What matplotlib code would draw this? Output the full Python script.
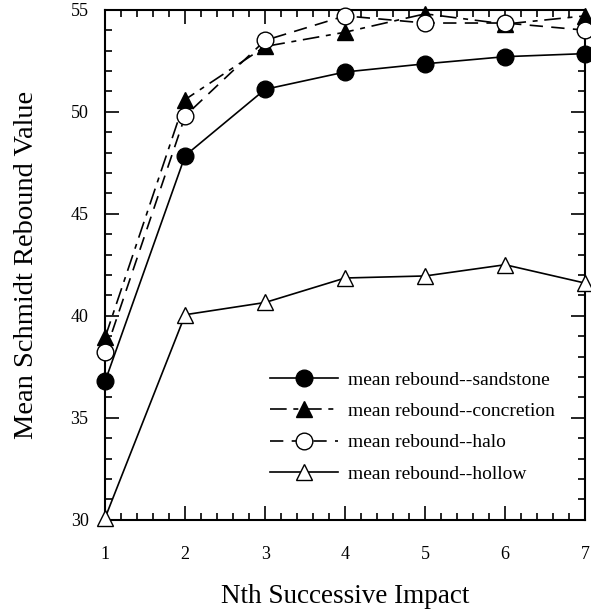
#!/usr/bin/env python3

import matplotlib
matplotlib.use('Agg')
import matplotlib.pyplot as plt
from matplotlib.ticker import MultipleLocator

# Data
impact = [1, 2, 3, 4, 5, 6, 7]
sandstone = [36.8, 47.85, 51.1, 51.95, 52.35, 52.7, 52.85]
concretion = [38.95, 50.6, 53.2, 53.9, 54.8, 54.3, 54.7]
halo = [38.2, 49.8, 53.5, 54.7, 54.35, 54.35, 54.0]
hollow = [30.1, 40.05, 40.65, 41.85, 41.95, 42.5, 41.6]

labels = ['mean rebound--sandstone', 'mean rebound--concretion',
          'mean rebound--halo', 'mean rebound--hollow']


def main():
    matplotlib.rcParams.update({'font.family': 'Liberation Serif', 'font.size': 13})

    fig = plt.figure(figsize=(5.91, 6.10), dpi=100)
    ax = fig.add_axes([0.178, 0.148, 0.812, 0.836])

    common = dict(color='k', lw=1.2, ms=12, clip_on=False, zorder=3)

    ax.plot(impact, sandstone, '-', marker='o', mfc='k', label=labels[0], **common)
    ax.plot(impact, concretion, marker='^', mfc='k', dashes=(10, 4, 3, 4),
            label=labels[1], **common)
    ax.plot(impact, halo, marker='o', mfc='w', dashes=(8, 5),
            label=labels[2], **common)
    ax.plot(impact, hollow, '-', marker='^', mfc='w', label=labels[3], **common)

    ax.set_xlim(1, 7)
    ax.set_ylim(30, 55)
    ax.xaxis.set_major_locator(MultipleLocator(1))
    ax.xaxis.set_minor_locator(MultipleLocator(0.2))
    ax.yaxis.set_major_locator(MultipleLocator(5))
    ax.yaxis.set_minor_locator(MultipleLocator(1))
    ax.tick_params(which='both', direction='in', top=True, right=True, width=1.2)
    ax.tick_params(which='major', length=10)
    ax.tick_params(which='minor', length=5)
    ax.tick_params(axis='x', which='major', pad=19)
    ax.tick_params(axis='y', which='major', pad=12)
    for s in ax.spines.values():
        s.set_linewidth(1.5)

    ax.set_xlabel('Nth Successive Impact', fontsize=19.5, labelpad=15)
    ax.set_ylabel('Mean Schmidt Rebound Value', fontsize=20.5, labelpad=23)

    ax.legend(loc='center', bbox_to_anchor=(0.64, 0.182), frameon=False,
              handlelength=3.5, fontsize=14, labelspacing=0.7,
              handletextpad=0.5)

    fig.savefig('out.png', dpi=100)


if __name__ == '__main__':
    main()
